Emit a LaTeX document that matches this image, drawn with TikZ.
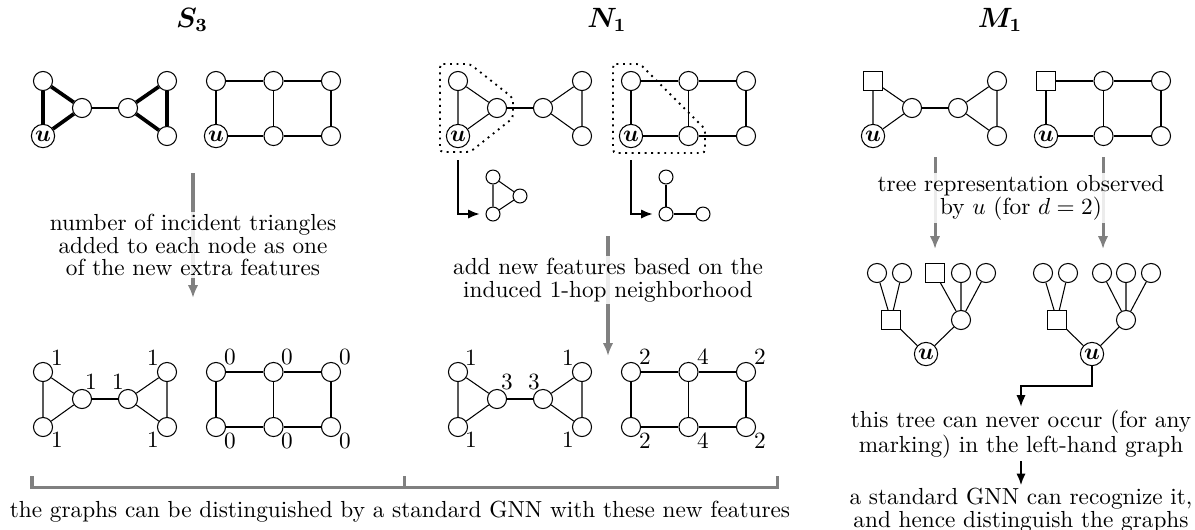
\documentclass[tikz,border=0pt]{standalone}
\usepackage{bm}
\usetikzlibrary{arrows.meta}
\tikzset{
 vtx/.style={circle,draw,minimum size=8.2pt,inner sep=0pt,line width=0.45pt},
 uvtx/.style={circle,draw,minimum size=10pt,inner sep=0.3pt,line width=0.45pt},
 sqv/.style={rectangle,draw,minimum size=8pt,inner sep=0pt,line width=0.45pt},
 smv/.style={circle,draw,minimum size=6pt,inner sep=0pt,line width=0.45pt},
 edge/.style={line width=0.45pt},
 thickedge/.style={line width=1.6pt},
 grayarrow/.style={draw=gray,line width=1.3pt,-{Latex[length=5.5pt,width=4.5pt]}},
 blackarrow/.style={line width=0.8pt,-{Latex[length=5pt,width=4pt]}},
 caption/.style={align=center,fill=white,fill opacity=0.85,text opacity=1,inner sep=1pt,font=\fontsize{10}{9.8}\selectfont},
 lbl/.style={inner sep=0pt},
 titlelbl/.style={inner sep=0pt,font=\large},
 region/.style={dotted,line width=0.8pt,rounded corners=1.5pt}
}
\newcommand\mybow[6]{%
 \begin{scope}[shift={(#2,#3)}]
 \node[#4] (#1a) at (0,0) {};
 \node[#5] (#1u) at (0,55) {#6};
 \node[vtx] (#1b) at (39,27) {};
 \node[vtx] (#1c) at (85,27) {};
 \node[vtx] (#1d) at (124,0) {};
 \node[vtx] (#1e) at (124,55) {};
 \end{scope}}
\newcommand\mybowedges[2]{%
 \draw[#2] (#1a)--(#1u) (#1a)--(#1b) (#1u)--(#1b) (#1c)--(#1d) (#1c)--(#1e) (#1d)--(#1e);
 \draw[edge] (#1b)--(#1c);}
\newcommand\mygrid[6]{%
 \begin{scope}[shift={(#2,#3)}]
 \node[#4] (#1a) at (0,0) {};
 \node[vtx] (#1b) at (57.5,0) {};
 \node[vtx] (#1c) at (115,0) {};
 \node[#5] (#1u) at (0,55) {#6};
 \node[vtx] (#1e) at (57.5,55) {};
 \node[vtx] (#1f) at (115,55) {};
 \end{scope}
 \draw[edge] (#1a)--(#1b) (#1b)--(#1c) (#1u)--(#1e) (#1e)--(#1f) (#1a)--(#1u) (#1b)--(#1e) (#1c)--(#1f);}
\begin{document}
\begin{tikzpicture}[x=0.43pt,y=-0.43pt]
\useasboundingbox (0,0) rectangle (1195,529);
% titles
\node[titlelbl] (t1) at (192,20) {$\bm{S_3}$};
\node[titlelbl] (t2) at (607,20) {$\bm{N_1}$};
\node[titlelbl] (t3) at (1000,20) {$\bm{M_1}$};
% ---- S3 top
\mybow{sa}{43}{81}{vtx}{uvtx}{$\bm{u}$}
\mybowedges{sa}{thickedge}
\mygrid{sg}{216}{81}{vtx}{uvtx}{$\bm{u}$}
% ---- N1 top
\mybow{na}{458}{81}{vtx}{uvtx}{$\bm{u}$}
\mybowedges{na}{edge}
\mygrid{ng}{631}{81}{vtx}{uvtx}{$\bm{u}$}
\draw[region] (440,64) -- (470,64) -- (513,98) -- (513,118) -- (470,152) -- (440,152) -- cycle;
\draw[region] (613,64) -- (640,64) -- (705,129) -- (705,153) -- (613,153) -- cycle;
% small induced graphs
\node[smv] (p1) at (493,177) {};
\node[smv] (p2) at (493,214) {};
\node[smv] (p3) at (520,196) {};
\draw[edge] (p1)--(p2) (p2)--(p3) (p3)--(p1);
\node[smv] (q1) at (666,177) {};
\node[smv] (q2) at (666,214) {};
\node[smv] (q3) at (703,214) {};
\draw[edge] (q1)--(q2) (q2)--(q3);
\coordinate (pa) at (458,160);
\coordinate (qa) at (631,160);
\draw[blackarrow,shorten >=2.5pt] (pa) |- (p2.west);
\draw[blackarrow,shorten >=2.5pt] (qa) |- (q2.west);
% ---- M1 top
\mybow{ma}{873}{81}{sqv}{uvtx}{$\bm{u}$}
\mybowedges{ma}{edge}
\mygrid{mg}{1046}{81}{sqv}{uvtx}{$\bm{u}$}
% ---- gray arrows with captions
\coordinate (s3a) at (193,173);
\coordinate (s3b) at (193,298);
\draw[grayarrow] (s3a)--(s3b);
\node[caption] (s3cap) at (193,245) {number of incident triangles\\added to each node as one\\of the new extra features};
\coordinate (n1a) at (608,236);
\coordinate (n1b) at (608,356);
\draw[grayarrow] (n1a)--(n1b);
\node[caption] (n1cap) at (608,280) {add new features based on the\\induced 1-hop neighborhood};
\coordinate (m1a) at (935,157);
\coordinate (m1b) at (935,249);
\coordinate (m2a) at (1103,157);
\coordinate (m2b) at (1103,249);
\draw[grayarrow] (m1a)--(m1b);
\draw[grayarrow] (m2a)--(m2b);
\node[caption] (m1cap) at (1021,198) {tree representation observed\\by $u$ (for $d=2$)};
% ---- trees
\node[vtx] (la1) at (877,273) {};
\node[vtx] (la2) at (902,273) {};
\node[sqv] (la3) at (935,273) {};
\node[vtx] (la4) at (961,273) {};
\node[vtx] (la5) at (986,273) {};
\node[sqv] (lm1) at (891,320) {};
\node[vtx] (lm2) at (961,320) {};
\node[uvtx] (lr) at (926,354) {$\bm{u}$};
\draw[edge] (lm1)--(la1) (lm1)--(la2) (lm2)--(la3) (lm2)--(la4) (lm2)--(la5) (lr)--(lm1) (lr)--(lm2);
\node[vtx] (ra1) at (1043,273) {};
\node[vtx] (ra2) at (1068,273) {};
\node[vtx] (ra3) at (1102,273) {};
\node[vtx] (ra4) at (1126,273) {};
\node[vtx] (ra5) at (1151,273) {};
\node[sqv] (rm1) at (1057,320) {};
\node[vtx] (rm2) at (1126,320) {};
\node[uvtx] (rr) at (1092,354) {$\bm{u}$};
\draw[edge] (rm1)--(ra1) (rm1)--(ra2) (rm2)--(ra3) (rm2)--(ra4) (rm2)--(ra5) (rr)--(rm1) (rr)--(rm2);
% ---- conclusion chain
\node[caption,fill=none] (c1) at (1021,434) {this tree can never occur (for any\\marking) in the left-hand graph};
\node[caption,fill=none] (c2) at (1021,510) {a standard GNN can recognize it,\\and hence distinguish the graphs};
\coordinate (kk) at (1092,386);
\draw[blackarrow] (rr) -- (rr |- kk) -| (c1.north);
\draw[blackarrow] (c1.south) -- (c2.north);
% ---- bottom graphs
\mybow{sb}{43}{372}{vtx}{vtx}{}
\mybowedges{sb}{edge}
\mygrid{sh}{216}{372}{vtx}{vtx}{}
\mybow{nb}{458}{372}{vtx}{vtx}{}
\mybowedges{nb}{edge}
\mygrid{nh}{631}{372}{vtx}{vtx}{}
% labels S3
\node[lbl] (l01) at (57,358) {1};
\node[lbl] (l02) at (91,382) {1};
\node[lbl] (l03) at (118,382) {1};
\node[lbl] (l04) at (153,358) {1};
\node[lbl] (l05) at (57,440) {1};
\node[lbl] (l06) at (153,440) {1};
\node[lbl] (l07) at (230,357) {0};
\node[lbl] (l08) at (287,357) {0};
\node[lbl] (l09) at (345,357) {0};
\node[lbl] (l10) at (230,441) {0};
\node[lbl] (l11) at (287,441) {0};
\node[lbl] (l12) at (345,441) {0};
% labels N1
\node[lbl] (l13) at (471,358) {1};
\node[lbl] (l14) at (507,382) {3};
\node[lbl] (l15) at (534,382) {3};
\node[lbl] (l16) at (568,358) {1};
\node[lbl] (l17) at (471,440) {1};
\node[lbl] (l18) at (568,440) {1};
\node[lbl] (l19) at (645,357) {2};
\node[lbl] (l20) at (703,357) {4};
\node[lbl] (l21) at (760,357) {2};
\node[lbl] (l22) at (645,441) {2};
\node[lbl] (l23) at (703,441) {4};
\node[lbl] (l24) at (760,441) {2};
% bracket
\coordinate (bl) at (32,476);
\coordinate (br) at (777,476);
\coordinate (bm) at (404.5,476);
\coordinate (bb) at (404.5,487);
\draw[gray,line width=1.3pt] (bl) |- (br |- bb) -- (br);
\draw[gray,line width=1.3pt] (bb) -- (bm);
\node[caption,fill=none] (bcap) at (400,512) {the graphs can be distinguished by a standard GNN with these new features};
\end{tikzpicture}
\end{document}
